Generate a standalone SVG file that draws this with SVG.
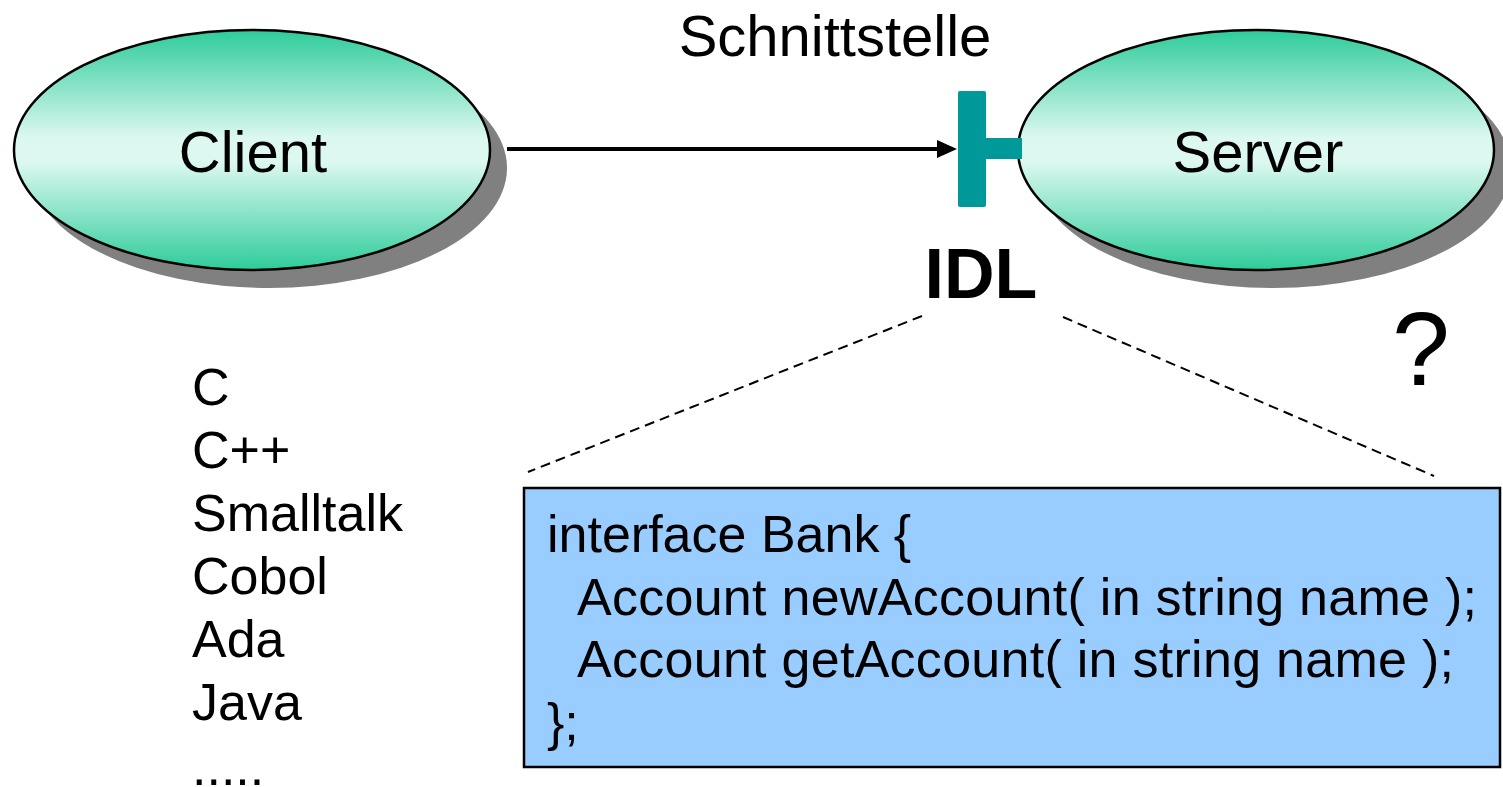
<svg xmlns="http://www.w3.org/2000/svg" width="1503" height="787" viewBox="0 0 1503 787">
  <style>
    .lbl { font-family: "Liberation Sans", Arial, sans-serif; fill: #000; }
    .node-shadow { fill: #808080; }
    .node-body { fill: url(#tealFade); stroke: #000; stroke-width: 2.5; }
    .lead { stroke: #000; stroke-width: 2; stroke-dasharray: 10 6; fill: none; }
  </style>
  <defs>
    <linearGradient id="tealFade" x1="0" y1="0" x2="0" y2="1">
      <stop offset="0" stop-color="#2ecc9a"/>
      <stop offset="0.45" stop-color="#dcf8f1"/>
      <stop offset="0.55" stop-color="#dcf8f1"/>
      <stop offset="1" stop-color="#2ecc9a"/>
    </linearGradient>
  </defs>

  <!-- title of the interface -->
  <text class="lbl" x="835" y="56" font-size="58" text-anchor="middle">Schnittstelle</text>

  <g id="client">
    <ellipse class="node-shadow" cx="269" cy="168" rx="238" ry="120"/>
    <ellipse class="node-body" cx="252" cy="150" rx="238" ry="120"/>
    <text class="lbl" x="253" y="172" font-size="58" text-anchor="middle">Client</text>
  </g>

  <g id="server">
    <ellipse class="node-shadow" cx="1273" cy="168" rx="238" ry="120"/>
    <ellipse class="node-body" cx="1256" cy="150" rx="238" ry="120"/>
    <text class="lbl" x="1258" y="172" font-size="58" text-anchor="middle">Server</text>
  </g>

  <!-- interface socket (T shape) -->
  <g id="interface">
    <rect x="958" y="91" width="28" height="116" rx="2" fill="#009999"/>
    <rect x="984" y="138" width="38" height="21" fill="#009999"/>
    <text class="lbl" x="981" y="298" font-size="70" font-weight="bold" text-anchor="middle">IDL</text>
  </g>

  <g id="connectors">
    <line x1="507" y1="149" x2="940" y2="149" stroke="#000" stroke-width="4"/>
    <path d="M937,140 L957,149 L937,158 Z" fill="#000"/>
    <line class="lead" x1="922" y1="316" x2="528" y2="472"/>
    <line class="lead" x1="1063" y1="317" x2="1434" y2="476"/>
  </g>

  <text class="lbl" x="1421" y="385" font-size="104" text-anchor="middle">?</text>

  <g id="languages">
    <text class="lbl" x="192" y="405" font-size="52">C</text>
    <text class="lbl" x="192" y="468" font-size="52">C++</text>
    <text class="lbl" x="192" y="531" font-size="52">Smalltalk</text>
    <text class="lbl" x="192" y="594" font-size="52">Cobol</text>
    <text class="lbl" x="192" y="657" font-size="52">Ada</text>
    <text class="lbl" x="192" y="720" font-size="52">Java</text>
    <text class="lbl" x="192" y="785" font-size="52">.....</text>
  </g>

  <g id="idl-code">
    <rect x="524" y="488" width="976" height="279" fill="#99ccff" stroke="#000" stroke-width="2.5"/>
    <text class="lbl" x="547" y="552" font-size="52">interface Bank {</text>
    <text class="lbl" x="577" y="615" font-size="52" textLength="900">Account newAccount( in string name );</text>
    <text class="lbl" x="577" y="677" font-size="52" textLength="877">Account getAccount( in string name );</text>
    <text class="lbl" x="547" y="740" font-size="52">};</text>
  </g>
</svg>
